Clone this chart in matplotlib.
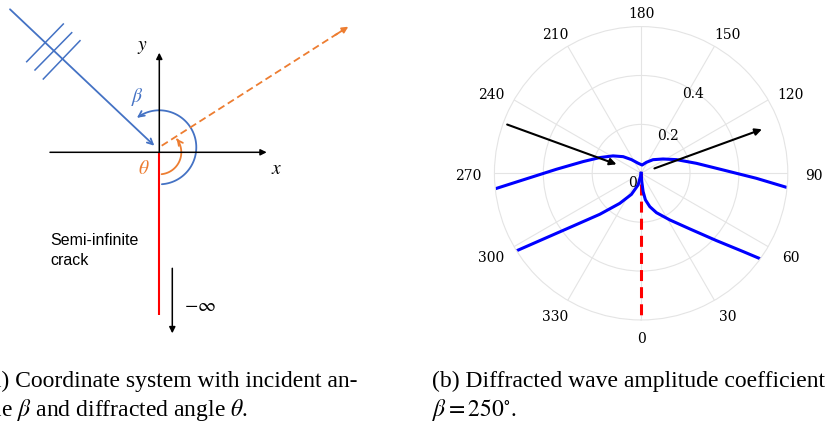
import numpy as np
import matplotlib.pyplot as plt
from matplotlib.patches import FancyArrowPatch
from matplotlib.path import Path

plt.rcParams['mathtext.fontset'] = 'stix'

# incident angle in degrees
beta = 250

# diffracted amplitude vs angle, split at the two singular directions
theta_lower_right = [0, 4.6, 6.2, 9.2, 14.6, 21.3, 31.6, 41.2, 48.2, 52.5, 54.3, 55.0]
amp_lower_right = [0, 0.034, 0.075, 0.110, 0.141, 0.173, 0.224, 0.3025, 0.413, 0.526, 0.598, 0.625]

theta_upper = [83.9, 84.4, 87.5, 92.3, 100.2, 111.1, 123.1, 138.7, 154.1, 173.2,
               196.7, 215.3, 227.2, 238.2, 249.2, 258.6, 267.3, 273.2, 276.1, 276.6]
amp_upper = [0.62, 0.6015, 0.472, 0.336, 0.230, 0.155, 0.107, 0.074, 0.050, 0.034,
             0.043, 0.0685, 0.100, 0.135, 0.181, 0.242, 0.347, 0.4835, 0.602, 0.62]

theta_lower_left = [301.6, 301.9, 303.6, 307.8, 314.8, 324.6, 335.3, 345.6, 348.7, 360]
amp_lower_left = [0.62, 0.600, 0.498, 0.352, 0.238, 0.151, 0.095, 0.049, 0.014, 0]

angle_ticks = list(range(0, 360, 30))
radius_ticks = [0.2, 0.4]
r_max = 0.6

# radii of the incident / diffracted ray arrows (start, end)
incident_r = [0.583, 0.107]
diffracted_r = [0.058, 0.526]

blue = '#4472C4'
orange = '#ED7D31'

fig = plt.figure(figsize=(8.25, 4.32), dpi=100)

# ---------------- (a) sketch, pixel units, origin at the crack tip
ax0 = fig.add_axes([0, 0, 1, 1])
ax0.set_xlim(-159.3, 665.7)
ax0.set_ylim(-279.7, 152.3)
ax0.axis('off')

def arrow(p0, p1, color, style='-|>', lw=1.1, ms=9):
    ax0.annotate('', xy=p1, xytext=p0,
                 arrowprops=dict(arrowstyle=style, color=color, lw=lw,
                                 mutation_scale=ms, shrinkA=0, shrinkB=0))

# crack
ax0.plot([0, 0], [0, -162.7], color='#FF0000', lw=1.5, solid_capstyle='butt')
# coordinate axes
arrow((-109.3, 0), (107.4, 0), 'black')
arrow((0, 0), (0, 99.6), 'black')
ax0.text(-16.6, 105.6, r'$y$', fontsize=14, ha='center', va='center')
ax0.text(117.4, -16, r'$x$', fontsize=14, ha='center', va='center')

# towards -infinity
arrow((13, -116), (13, -181), 'black')
ax0.text(25, -152.7, r'$-\infty$', fontsize=14, ha='left', va='center')
ax0.text(-108.6, -87.7, 'Semi-infinite', fontsize=11.5, family='Liberation Sans',
         ha='left', va='center')
ax0.text(-108.6, -107.7, 'crack', fontsize=11.5, family='Liberation Sans',
         ha='left', va='center')

# incident wave with wavefronts
arrow((-149.3, 143), (-5, 6.6), blue, style='->', lw=1.3, ms=10)
for (x0, y0), (x1, y1) in [((-132.6, 90.6), (-96, 128.3)),
                           ((-124.3, 82.3), (-87.6, 119.6)),
                           ((-116, 73.3), (-79.3, 111.6))]:
    ax0.plot([x0, x1], [y0, y1], color=blue, lw=1.1)

# beta arc
a = np.deg2rad(np.linspace(-86, 127, 80))
arc = Path(np.column_stack([37 * np.cos(a), 5 + 37 * np.sin(a)]))
ax0.add_patch(FancyArrowPatch(path=arc, arrowstyle='->', color=blue, lw=1.3,
                              mutation_scale=10))
ax0.text(-21.6, 55.6, r'$\beta$', fontsize=14, color=blue, ha='center', va='center')

# theta arc
a = np.deg2rad(np.linspace(-84, 38, 60))
arc = Path(np.column_stack([22 * np.cos(a), 22 * np.sin(a)]))
ax0.add_patch(FancyArrowPatch(path=arc, arrowstyle='->', color=orange, lw=1.3,
                              mutation_scale=9))
ax0.text(-15, -16, r'$\theta$', fontsize=14, color=orange, ha='center', va='center')

# diffracted ray
ax0.plot([2.4, 183], [6.6, 121.8], color=orange, lw=1.3, dashes=(4, 2.2))
arrow((176, 117.3), (189, 125.6), orange, lw=1.3, ms=9)

# ---------------- (b) polar amplitude plot
ax = fig.add_axes([0.5993, 0.2593, 0.3556, 0.6792], projection='polar')
ax.set_theta_zero_location('S')
ax.set_theta_direction(1)
ax.set_rlim(0, r_max)
ax.set_thetagrids(angle_ticks, labels=['' for _ in angle_ticks])
ax.set_rgrids(radius_ticks, labels=['' for _ in radius_ticks])
ax.grid(color='#e4e4e4', lw=0.8)
ax.spines['polar'].set_color('#e4e4e4')
ax.spines['polar'].set_linewidth(0.8)

# angle labels sit on a flattened ring just outside the outer circle
for t in angle_ticks:
    tr = np.deg2rad(t)
    dx = 26 * np.sin(tr) * 0.72
    dy = (-16 * np.cos(tr) - 3) * 0.72
    ax.annotate(str(t), xy=(tr, r_max), xytext=(dx, dy), textcoords='offset points',
                ha='center', va='center', fontfamily='DejaVu Serif', fontsize=10,
                annotation_clip=False)

ax.plot([0, 0], [0, r_max], color='#FF0000', lw=2.2, linestyle=(2, (3.6, 2)))
for th, amp in [(theta_lower_right, amp_lower_right),
                (theta_upper, amp_upper),
                (theta_lower_left, amp_lower_left)]:
    ax.plot(np.deg2rad(th), amp, color='#0000FF', lw=2.2)

# radius labels along the 150 degree spoke
ax.annotate('0', xy=(0, 0), xytext=(-3, -2), textcoords='offset points',
            ha='right', va='top', fontfamily='DejaVu Serif', fontsize=10)
for r in radius_ticks:
    ax.annotate(f'{r:.1f}', xy=(np.deg2rad(150), r), xytext=(2, -4),
                textcoords='offset points', ha='center', va='center',
                fontfamily='DejaVu Serif', fontsize=10)

# incident and diffracted directions
arrow_kw = dict(arrowstyle='-|>', color='black', lw=1.5, mutation_scale=10,
                shrinkA=0, shrinkB=0)
ax.annotate('', xy=(np.deg2rad(beta), incident_r[1]),
            xytext=(np.deg2rad(beta), incident_r[0]), arrowprops=arrow_kw)
ax.annotate('', xy=(np.deg2rad(360 - beta), diffracted_r[1]),
            xytext=(np.deg2rad(360 - beta), diffracted_r[0]), arrowprops=arrow_kw)

# captions
cap = dict(fontsize=17, family='Liberation Serif', va='center', ha='left')
fig.text(-16.7 / 825, 1 - 381 / 432, '(a) Coordinate system with incident an-', **cap)
fig.text(-16.7 / 825, 1 - 410 / 432, r'gle $\beta$ and diffracted angle $\theta$.', **cap)
fig.text(432 / 825, 1 - 381 / 432, '(b) Diffracted wave amplitude coefficients', **cap)
fig.text(432 / 825, 1 - 410 / 432, r'$\beta = 250^{\circ}$.', **cap)

fig.savefig('out.png', dpi=100)
